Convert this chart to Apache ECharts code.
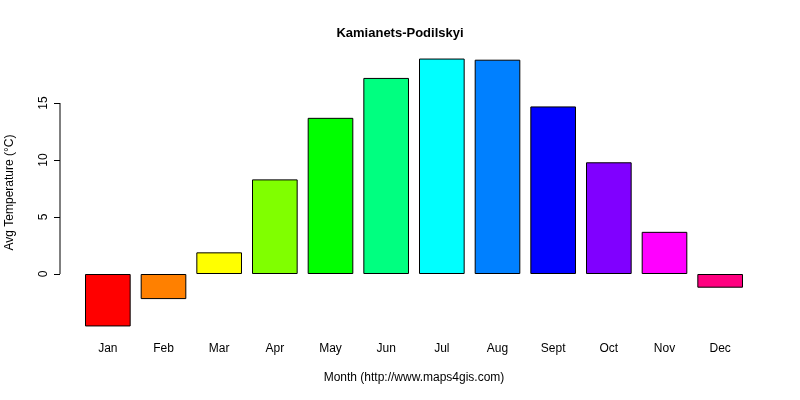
<!DOCTYPE html>
<html><head><meta charset="utf-8">
<script src="https://cdn.jsdelivr.net/npm/echarts@6/dist/echarts.min.js"></script>
<style>body{margin:0}#c{width:800px;height:400px}</style></head>
<body><div id="c"></div>
<script>
const months = ['Jan','Feb','Mar','Apr','May','Jun','Jul','Aug','Sept','Oct','Nov','Dec'];
const temps = [-4.6,-2.2,1.9,8.3,13.7,17.2,18.9,18.8,14.7,9.8,3.7,-1.2];
const colors = ['#FF0000','#FF8000','#FFFF00','#80FF00','#00FF00','#00FF80','#00FFFF','#0080FF','#0000FF','#8000FF','#FF00FF','#FF0080'];
const yTicks = [0,5,10,15];
const chart = echarts.init(document.getElementById('c'));
const font = 'Arial, Liberation Sans, sans-serif';
chart.setOption({
  animation:false,
  title:{text:'Kamianets-Podilskyi',left:'center',top:22,textStyle:{fontSize:13,fontWeight:'bold',color:'#000',fontFamily:font}},
  grid:{left:80,right:52,top:50,bottom:65,outerBoundsMode:'none',containLabel:false},
  xAxis:{type:'category',data:months,axisLine:{show:false},axisTick:{show:false},
    axisLabel:{color:'#000',fontSize:12,margin:8,fontFamily:font},
    name:'Month (http://www.maps4gis.com)',nameLocation:'middle',nameGap:37,
    nameTextStyle:{color:'#000',fontSize:12,fontFamily:font}},
  yAxis:{type:'value',min:-5.35,max:19.65,offset:20,splitLine:{show:false},axisLine:{show:false},
    axisTick:{show:true,customValues:yTicks,length:6,lineStyle:{color:'#000'}},
    axisLabel:{customValues:yTicks,rotate:90,color:'#000',fontSize:12,margin:10,fontFamily:font},
    name:'Avg Temperature (°C)',nameLocation:'middle',nameGap:44,
    nameTextStyle:{color:'#000',fontSize:12,fontFamily:font}},
  series:[{type:'bar',barCategoryGap:'18%',
    data:temps.map((v,i)=>({value:v,itemStyle:{color:colors[i],borderColor:'#000',borderWidth:1}}))}]
});
const p0 = chart.convertToPixel({yAxisIndex:0},yTicks[0]);
const p1 = chart.convertToPixel({yAxisIndex:0},yTicks[yTicks.length-1]);
chart.setOption({graphic:[{type:'line',shape:{x1:60,y1:p0,x2:60,y2:p1},style:{stroke:'#000',lineWidth:1}}]});
</script></body></html>
